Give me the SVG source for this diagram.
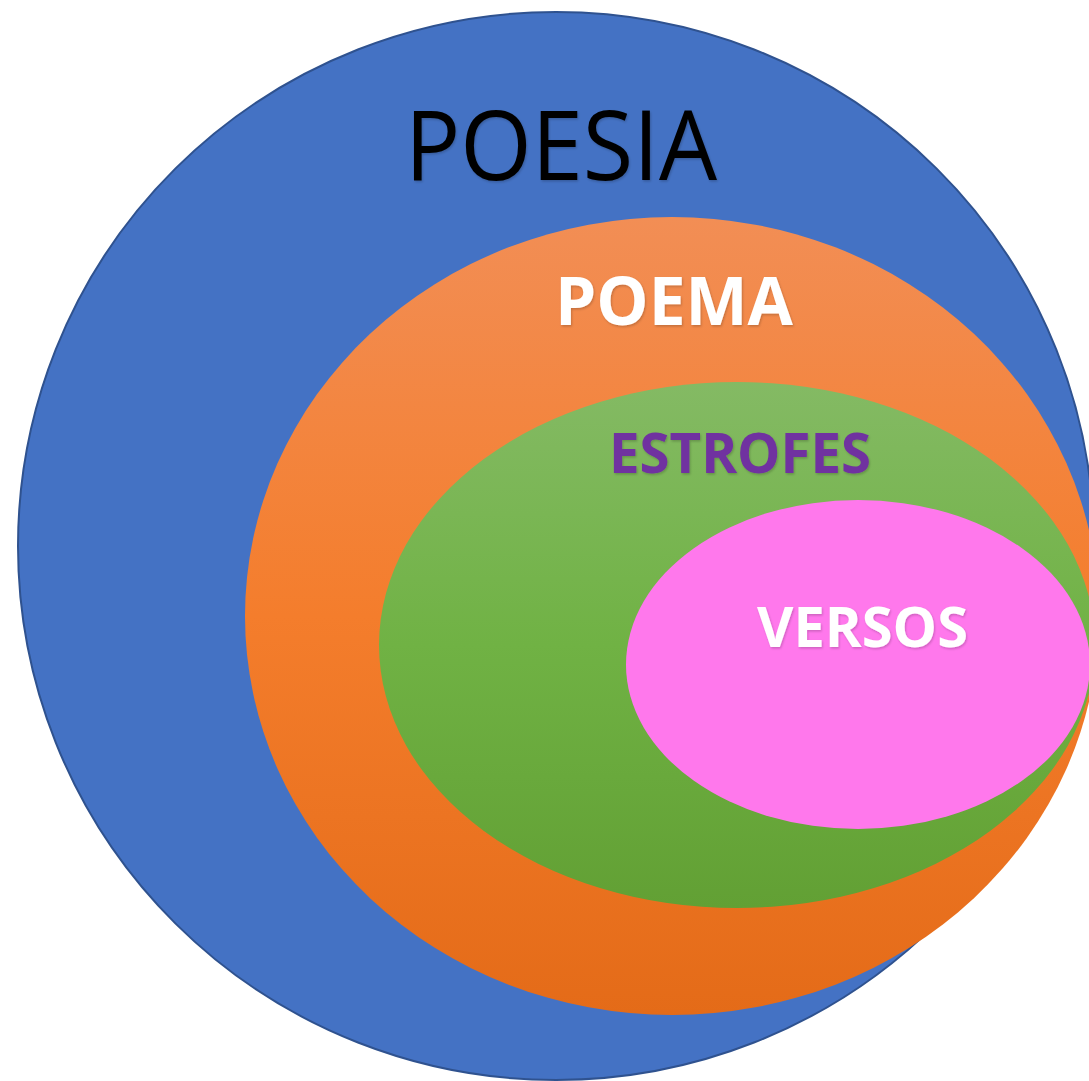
<svg xmlns="http://www.w3.org/2000/svg" width="1089" height="1081" viewBox="0 0 1089 1081">
  <defs>
    <linearGradient id="gOrange" x1="0" y1="0" x2="0" y2="1">
      <stop offset="0" stop-color="#F28E55"/>
      <stop offset="0.5" stop-color="#F47D2C"/>
      <stop offset="1" stop-color="#E46B18"/>
    </linearGradient>
    <linearGradient id="gGreen" x1="0" y1="0" x2="0" y2="1">
      <stop offset="0" stop-color="#84BA64"/>
      <stop offset="0.5" stop-color="#70B244"/>
      <stop offset="1" stop-color="#62A034"/>
    </linearGradient>
    <filter id="shadow" x="-10%" y="-10%" width="120%" height="130%">
      <feDropShadow dx="1" dy="1.5" stdDeviation="1.2" flood-color="#000" flood-opacity="0.2"/>
    </filter>
  </defs>
  <style>
    .lbl { font-family: "Open Sans", "Liberation Sans", sans-serif; }
    .bold { font-weight: bold; }
  </style>
  <rect width="1089" height="1081" fill="#FFFFFF"/>
  <g id="poesia">
    <ellipse cx="556" cy="546" rx="538" ry="534" fill="#4472C4" stroke="#2F528F" stroke-width="2"/>
    <text class="lbl" x="405" y="180" font-size="97" fill="#000000" textLength="312" lengthAdjust="spacingAndGlyphs" filter="url(#shadow)">POESIA</text>
  </g>
  <g id="poema">
    <ellipse cx="672" cy="616" rx="427" ry="399" fill="url(#gOrange)"/>
    <text class="lbl bold" x="555" y="325" font-size="66" fill="#FFFFFF" textLength="238" lengthAdjust="spacingAndGlyphs" filter="url(#shadow)">POEMA</text>
  </g>
  <g id="estrofes">
    <ellipse cx="737" cy="645" rx="358" ry="263" fill="url(#gGreen)"/>
    <text class="lbl bold" x="609" y="473" font-size="56" fill="#7030A0" textLength="262" lengthAdjust="spacingAndGlyphs" filter="url(#shadow)">ESTROFES</text>
  </g>
  <g id="versos">
    <ellipse cx="858" cy="664.5" rx="232" ry="164.5" fill="#FF78EC"/>
    <text class="lbl bold" x="757" y="647" font-size="55" fill="#FFFFFF" textLength="211" lengthAdjust="spacingAndGlyphs" filter="url(#shadow)">VERSOS</text>
  </g>
  <g id="connectors"/>
</svg>
